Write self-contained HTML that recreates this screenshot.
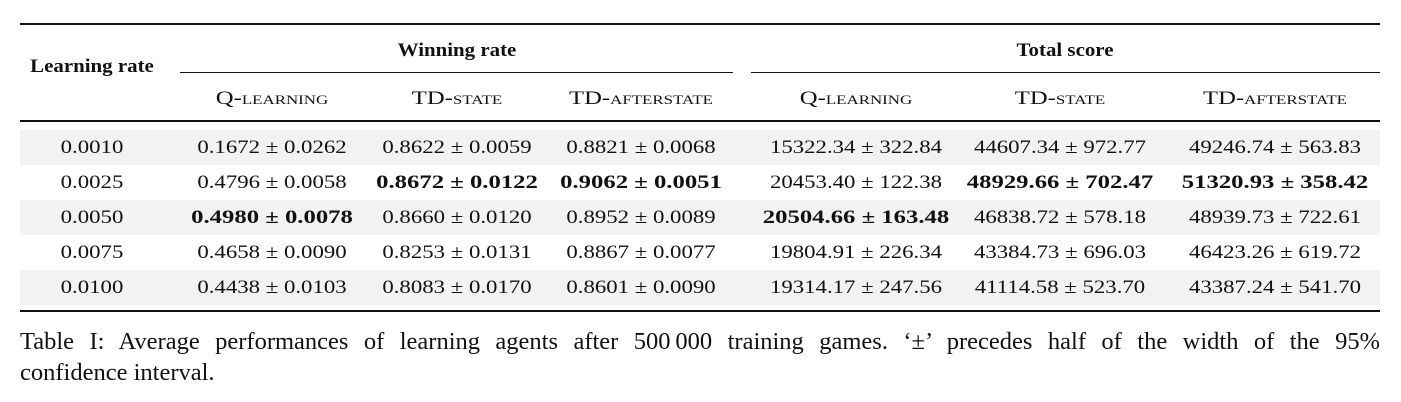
<!DOCTYPE html>
<html><head><meta charset="utf-8"><style>
body{margin:0;width:1401px;height:402px;background:#fff;position:relative;overflow:hidden;font-family:"Liberation Serif",serif;color:#111}
.r{position:absolute;background:#111}
.band{position:absolute;left:20px;width:1360px;height:35px;background:#f2f2f2}
.c{position:absolute;transform:translateX(-50%) scaleX(1.2);white-space:nowrap;font-size:19px;line-height:20px}
.b{font-weight:bold;transform:translateX(-50%) scaleX(1.3)}
.h{font-weight:bold;transform:translateX(-50%) scaleX(1.1)}
.sc{font-variant:small-caps;transform:translateX(-50%) scaleX(1.3)}
.cap{position:absolute;left:20px;width:1360px;font-size:24.5px;line-height:31px;white-space:nowrap}
.l1{text-align:justify;text-align-last:justify}
</style></head><body>
<div class="r" style="left:20px;top:23px;width:1360px;height:2px"></div>
<div class="r" style="left:180px;top:72px;width:553px;height:1px"></div>
<div class="r" style="left:751px;top:72px;width:629px;height:1px"></div>
<div class="r" style="left:20px;top:120px;width:1360px;height:1.5px"></div>
<div class="r" style="left:20px;top:310px;width:1360px;height:2px"></div>
<div class="c h" style="left:92px;top:57px">Learning rate</div>
<div class="c h" style="left:457px;top:41px">Winning rate</div>
<div class="c h" style="left:1065px;top:41px">Total score</div>
<div id="t"></div>
<div class="cap l1" style="top:326px">Table I: Average performances of learning agents after 500&#8201;000 training games. ‘±’ precedes half of the width of the 95%</div>
<div class="cap" style="top:357px">confidence interval.</div>
<script>
const cols=[92,272,457,641,856,1060,1275];
const methods=["Q-learning","TD-state","TD-afterstate","Q-learning","TD-state","TD-afterstate"];
const rates=["0.0010","0.0025","0.0050","0.0075","0.0100"];
const win=[["0.1672 ± 0.0262","0.8622 ± 0.0059","0.8821 ± 0.0068"],["0.4796 ± 0.0058","0.8672 ± 0.0122","0.9062 ± 0.0051"],["0.4980 ± 0.0078","0.8660 ± 0.0120","0.8952 ± 0.0089"],["0.4658 ± 0.0090","0.8253 ± 0.0131","0.8867 ± 0.0077"],["0.4438 ± 0.0103","0.8083 ± 0.0170","0.8601 ± 0.0090"]];
const score=[["15322.34 ± 322.84","44607.34 ± 972.77","49246.74 ± 563.83"],["20453.40 ± 122.38","48929.66 ± 702.47","51320.93 ± 358.42"],["20504.66 ± 163.48","46838.72 ± 578.18","48939.73 ± 722.61"],["19804.91 ± 226.34","43384.73 ± 696.03","46423.26 ± 619.72"],["19314.17 ± 247.56","41114.58 ± 523.70","43387.24 ± 541.70"]];
const bold=[[1,2],[1,3],[2,1],[1,5],[1,6],[2,4]];
const t=document.getElementById('t');
function add(txt,x,y,cls,name){const d=document.createElement('div');d.className='c '+cls;d.style.left=x+'px';d.style.top=y+'px';d.textContent=txt;


t.appendChild(d);}
methods.forEach((m,i)=>add(m,cols[i+1],89,'sc','method-header'));
rates.forEach((r,i)=>{const y0=130+i*35;
if(i%2===0){const b=document.createElement('div');b.className='band';b.style.top=y0+'px';


t.appendChild(b);}
const y=y0+8;
add(r,cols[0],y,'','learning-rate-cell');
const vals=win[i].concat(score[i]);
vals.forEach((v,j)=>{const isB=bold.some(p=>p[0]===i&&p[1]===j+1);add(v,cols[j+1],y,isB?'b':'','value-cell');});
});
</script>
</body></html>
